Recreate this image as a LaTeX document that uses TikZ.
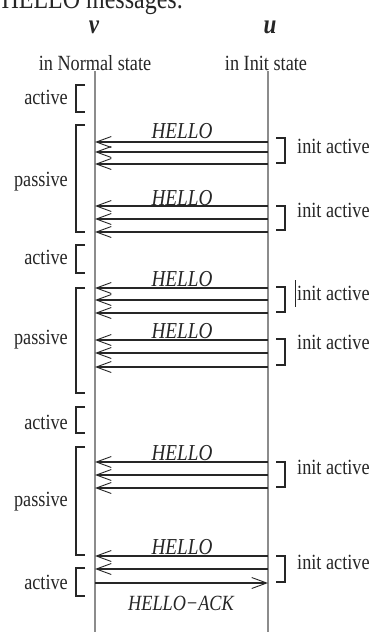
\documentclass[tikz,border=0pt]{standalone}
\usepackage{fontspec}
\setmainfont{Liberation Serif}
\usetikzlibrary{arrows.meta}
\definecolor{ink}{HTML}{262626}
\definecolor{lifegray}{HTML}{8C8C8C}
% narrow, tall lettering
\newcommand\tallbox[1]{\scalebox{0.96}[1.14]{#1}}
\begin{document}
\begin{tikzpicture}[x=1pt,y=-1pt,
  lbl/.style={inner sep=0pt, text=ink, font=\fontsize{19}{19}\selectfont},
  msg/.style={inner sep=0pt, text=ink, font=\fontsize{20}{20}\selectfont\itshape},
  head/.style={inner sep=0pt, text=ink, font=\fontsize{24}{24}\selectfont\bfseries\itshape},
  lifeline/.style={draw=lifegray, line width=1.6pt},
  brk/.style={draw=ink, line width=1.2pt},
  hello/.style={draw=ink, line width=1.1pt,
    -{Straight Barb[length=15pt,width=11pt,line width=0.9pt]}},
]
\useasboundingbox (0,0) rectangle (374,632);
\clip (0,0) rectangle (374,632);
\fill[white] (0,0) rectangle (374,632);

% running text above the chart
\node[anchor=base east, inner sep=0pt, text=ink,
      font=\fontsize{25}{25}\selectfont] (caption) at (183,8) {\tallbox{HELLO messages.}};

% process names and their states
\node[head] (vname) at (94,27) {\tallbox{v}};
\node[head] (uname) at (270,27) {\tallbox{u}};
\node[lbl] (vstate) at (95,63) {\tallbox{in Normal state}};
\node[lbl] (ustate) at (266,63) {\tallbox{in Init state}};

% lifelines
\coordinate (vtop) at (95,71);  \coordinate (vbot) at (95,632);
\coordinate (utop) at (268,71); \coordinate (ubot) at (268,632);
\draw[lifeline] (vtop) -- (vbot);
\draw[lifeline] (utop) -- (ubot);

% states of v: index / top / bottom / label / label centre
\foreach \i/\a/\b/\t/\c in {1/85/112/active/98, 2/125/232/passive/180,
    3/245/273/active/258, 4/288/393/passive/338, 5/407/433/active/423,
    6/447/555/passive/500, 7/568/596/active/583}
{
  \coordinate (st\i) at (85,\a);
  \coordinate (sb\i) at (85,\b);
  \draw[brk] (st\i) -- ++(-9,0) |- (sb\i);
  \node[lbl, anchor=base east] (state\i) at (68,\c+6.5) {\tallbox{\t}};
}

% HELLO bursts: group / arrow heights / label baseline / bracket top / bottom / label centre
\foreach \g/\ys/\hb/\bt/\bb/\ic in {1/{142,152,164}/138/138/163/147,
    2/{206,219,232}/205/206/230/211, 3/{288,300,313}/286/287/312/294,
    4/{340,353,367}/338/339/365/343, 5/{462,475,488}/460/462/487/468,
    6/{556,569}/554/556/582/563}
{
  \foreach \y [count=\k] in \ys {
    \coordinate (u\g m\k) at (268,\y);
    \coordinate (v\g m\k) at (95,\y);
    \draw[hello] (u\g m\k) -- (v\g m\k);
  }
  \node[msg, anchor=base] (hello\g) at (182,\hb) {\tallbox{HELLO}};
  \coordinate (it\g) at (276,\bt);
  \coordinate (ib\g) at (276,\bb);
  \draw[brk] (it\g) -- ++(9,0) |- (ib\g);
  \node[lbl, anchor=base west] (init\g) at (297,\ic+6.5) {\tallbox{init active}};
}

% stray mark before the third "init active"
\coordinate (marka) at (295,280);
\coordinate (markb) at (295,307);
\draw[ink, line width=0.8pt] (marka) -- (markb);

% acknowledgement back to u
\coordinate (vack) at (95,583);
\coordinate (uack) at (268,583);
\draw[hello] (vack) -- (uack);
\node[msg, anchor=base, font=\fontsize{19}{19}\selectfont\itshape] (ack) at (181,610) {\tallbox{HELLO−ACK}};
\end{tikzpicture}
\end{document}
